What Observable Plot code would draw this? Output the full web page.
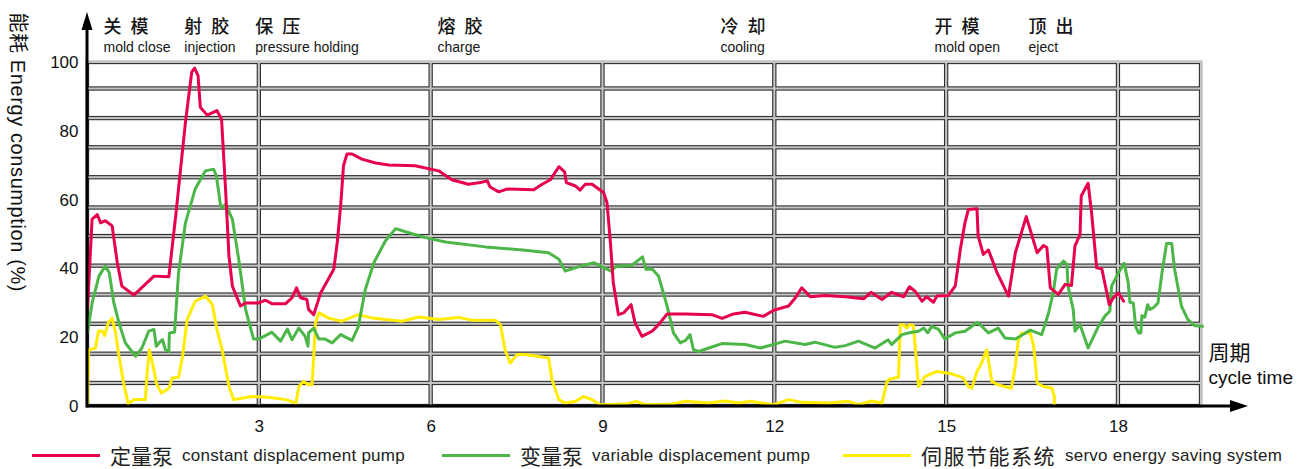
<!DOCTYPE html>
<html><head><meta charset="utf-8">
<script src="https://cdn.jsdelivr.net/npm/d3@7"></script>
<script src="https://cdn.jsdelivr.net/npm/@observablehq/plot@0.6"></script>
<style>
body{margin:0;background:#fff;font-family:"Liberation Sans",Arial,sans-serif;}
#wrap{position:relative;width:1299px;height:469px;overflow:hidden;}
#legend{position:absolute;left:0;top:441px;width:1299px;height:28px;}
.item{position:absolute;top:0;height:28px;display:flex;align-items:center;white-space:nowrap;color:#222;line-height:1;}
.sw{width:68px;height:3px;margin-right:10px;}
.zh{font-family:"Noto Sans CJK SC";font-size:21px;margin-right:9px;line-height:1;}
.en{font-size:17px;line-height:1;}
</style></head>
<body>
<div id="wrap"><div id="chart"></div><div id="legend"></div></div>
<script>
// ---- data ----
const xTicks = [3, 6, 9, 12, 15, 18];
const yTicks = [0, 20, 40, 60, 80, 100];
const colEdges = [0, 3, 6, 9, 12, 15, 18, 19.45];
const rowEdges = [0, 6.7, 15.2, 23.9, 32.4, 40.8, 49.4, 57.7, 66.5, 75.2, 83.7, 92.3, 100];
const phaseStart = [0.28, 1.69, 2.93, 6.11, 11.05, 14.79, 16.43];
const phaseZh = ["关模", "射胶", "保压", "熔胶", "冷却", "开模", "顶出"];
const phaseEn = ["mold close", "injection", "pressure holding", "charge", "cooling", "mold open", "eject"];
const seriesZh = ["定量泵", "变量泵", "伺服节能系统"];
const seriesEn = ["constant displacement pump", "variable displacement pump", "servo energy saving system"];
const seriesColor = ["#e6004e", "#4cb648", "#ffec00"];
const yLabel = "能耗 Energy consumption (%)";
const xLabelZh = "周期";
const xLabelEn = "cycle time";

const constantPump = [[0,28.3],[0.08,54.5],[0.17,55.8],[0.23,53.4],[0.31,54],[0.43,52.5],[0.52,41.8],[0.6,35],[0.81,32.4],[1.16,37.9],[1.42,37.7],[1.54,55.4],[1.71,82.6],[1.82,97.2],[1.87,98.4],[1.93,96.2],[1.97,87],[2.09,84.7],[2.26,86],[2.34,83.6],[2.41,63.3],[2.47,43.7],[2.53,35],[2.67,29.2],[2.76,30.1],[2.99,30.1],[3.11,30.9],[3.22,29.9],[3.46,29.9],[3.57,31.6],[3.65,34.5],[3.72,31.6],[3.83,31.1],[3.86,28.2],[3.95,26.7],[4.07,33],[4.3,39.9],[4.36,47.6],[4.42,58.3],[4.47,70],[4.53,73.4],[4.62,73.4],[4.79,71.9],[5.03,70.8],[5.26,70.2],[5.72,70],[6.13,68.5],[6.36,65.9],[6.65,64.6],[6.86,65.1],[6.98,65.6],[7.03,63.8],[7.18,62.4],[7.32,63.2],[7.79,63],[7.94,64.6],[8.08,65.9],[8.23,69.7],[8.33,68.2],[8.36,65.1],[8.52,64.1],[8.6,62.9],[8.69,64.6],[8.81,64.6],[9.01,62.2],[9.07,59.3],[9.13,47.6],[9.18,36],[9.27,26.7],[9.36,27.2],[9.49,29.6],[9.56,24.3],[9.68,20.4],[9.86,21.9],[9.97,23.8],[10.12,26.9],[10.44,26.9],[10.9,26.7],[11.08,25.6],[11.28,26.9],[11.48,27.4],[11.8,26.2],[11.98,28],[12.24,29.2],[12.36,31.6],[12.47,34.5],[12.62,31.9],[12.88,32.3],[13.23,31.9],[13.55,31.3],[13.68,33.2],[13.87,31.1],[14.04,33.2],[14.25,31.9],[14.35,34.8],[14.45,33.5],[14.57,30.6],[14.65,31.9],[14.77,30.3],[14.83,32.1],[15.03,32.3],[15.15,35],[15.24,45.7],[15.32,53.4],[15.38,57.3],[15.53,57.5],[15.55,49.6],[15.64,44.2],[15.73,45.5],[15.88,38.9],[16.08,32.1],[16.2,44.7],[16.39,55.2],[16.58,44.7],[16.69,46.8],[16.75,46.2],[16.81,34.5],[16.95,32.6],[17.07,35.5],[17.18,35.2],[17.24,46.6],[17.33,50.1],[17.35,61.2],[17.47,64.9],[17.53,56.4],[17.62,40.3],[17.71,40],[17.84,29.6],[17.91,31.6],[18,33],[18.09,30.6]];

const variablePump = [[0,21.4],[0.08,30.1],[0.2,37.9],[0.31,40.8],[0.38,38.9],[0.46,30.1],[0.55,24.3],[0.66,18.5],[0.84,14.6],[0.95,17],[1.07,21.9],[1.16,22.4],[1.2,17.5],[1.26,18.7],[1.31,19.4],[1.36,16.5],[1.42,16],[1.43,21.4],[1.52,21.6],[1.59,38.9],[1.71,53.4],[1.88,63.2],[2.06,68.5],[2.2,69],[2.25,67.1],[2.32,58.8],[2.35,57.8],[2.41,58.8],[2.53,54.4],[2.64,42.8],[2.76,28.2],[2.9,19.6],[2.99,19.6],[3.22,21.6],[3.37,19],[3.49,22.5],[3.57,19.4],[3.69,22.8],[3.8,20.4],[3.85,17.5],[3.86,21.4],[3.95,22.8],[4.04,19.6],[4.15,19.6],[4.27,18.5],[4.42,20.9],[4.62,19.2],[4.73,23.3],[4.85,34],[5,41.8],[5.2,48.1],[5.38,51.7],[5.55,50.8],[5.9,49.1],[6.25,47.8],[6.95,46.4],[7.64,45.4],[8.05,44.7],[8.23,42.8],[8.34,39.4],[8.57,40.6],[8.84,41.8],[9.13,39.4],[9.24,40.8],[9.5,41],[9.69,43.5],[9.75,39.9],[9.86,40],[9.97,37.9],[10.12,29.2],[10.23,21.4],[10.35,18.5],[10.44,19.2],[10.52,20.9],[10.58,16.5],[10.67,16],[10.9,17.3],[11.08,18.3],[11.48,18],[11.75,17],[12.18,19],[12.53,18],[12.7,18.7],[13.05,17.2],[13.23,17.7],[13.46,19],[13.75,17],[13.98,19.4],[14.04,18],[14.22,20.9],[14.39,21.6],[14.51,21.9],[14.6,22.8],[14.67,21.4],[14.74,23.3],[14.86,22.4],[14.97,19.6],[15.15,21.4],[15.32,21.9],[15.54,24.5],[15.73,21.4],[15.9,22.8],[16.02,19.9],[16.2,19.6],[16.46,22.2],[16.66,20.9],[16.78,27.2],[16.86,33],[16.92,39.9],[17.04,42.3],[17.1,41.3],[17.12,35],[17.21,28.2],[17.24,21.9],[17.33,23.8],[17.47,17],[17.65,23.3],[17.77,26.4],[17.85,27.7],[17.88,35],[18,38.9],[18.1,41.6],[18.17,36],[18.2,30.3],[18.26,30.1],[18.3,23.3],[18.35,21.4],[18.39,21.4],[18.41,26.4],[18.46,26],[18.51,29.6],[18.55,28.2],[18.61,28.7],[18.69,30.1],[18.76,38.9],[18.84,47.4],[18.93,47.4],[18.98,39.9],[19.1,29.2],[19.21,25.3],[19.33,23.5],[19.47,23.3]];

const servoSystem = [[0,0.5],[0.02,16.5],[0.14,17],[0.19,21.9],[0.26,21.9],[0.3,20.6],[0.36,24.3],[0.43,25.7],[0.49,21.4],[0.55,14.6],[0.63,6.8],[0.71,0.8],[0.81,2],[1.01,2],[1.04,9.7],[1.08,16.5],[1.16,10.7],[1.2,6.8],[1.29,3.9],[1.42,5.3],[1.48,8.3],[1.59,8.5],[1.66,14.6],[1.74,25.3],[1.88,30.6],[2.06,32.1],[2.18,29.6],[2.26,22.4],[2.35,16.5],[2.47,5.8],[2.55,2],[2.87,2.9],[3.16,2.7],[3.46,2],[3.64,1],[3.69,5.8],[3.77,7.3],[3.86,6.3],[3.92,6.3],[3.95,14.6],[3.98,24.3],[4.04,27.2],[4.21,25.7],[4.44,24.8],[4.73,26.7],[4.97,25.7],[5.49,24.8],[5.78,26],[6.13,25.3],[6.48,25.9],[6.71,25.1],[7.12,25.1],[7.21,23.8],[7.29,16.5],[7.38,12.6],[7.5,15.1],[7.64,15.1],[8.05,14.1],[8.11,7.8],[8.23,2],[8.34,1],[8.52,1.5],[8.66,2.9],[8.81,2],[8.95,0.5],[9.39,0.7],[9.59,1.5],[9.74,0.5],[10.2,0.7],[10.44,1.5],[10.84,1],[11.13,1.6],[11.37,1],[11.57,1.5],[11.98,0.5],[12.24,2],[12.47,1.2],[12.94,1],[13.29,1.5],[13.46,0.5],[13.69,1.6],[13.87,1],[13.96,7.3],[14.01,8],[14.16,8.5],[14.19,23.8],[14.25,23.8],[14.3,22.8],[14.36,23.8],[14.42,23.5],[14.51,5.8],[14.62,8.7],[14.83,10.2],[15.09,9.5],[15.29,8.3],[15.38,5.8],[15.44,5.3],[15.53,10.2],[15.61,12.6],[15.7,16.5],[15.79,7.3],[15.9,6.3],[16.13,5.3],[16.2,11.7],[16.25,19],[16.31,21.4],[16.46,21.4],[16.52,17.5],[16.58,6.8],[16.69,5.8],[16.84,5.3],[16.88,2.9],[16.88,0.2]];

// ---- derived tables ----
const cells = [];
for (let i = 0; i < colEdges.length - 1; i++)
  for (let j = 0; j < rowEdges.length - 1; j++)
    cells.push({x1: colEdges[i], x2: colEdges[i + 1], y1: rowEdges[j], y2: rowEdges[j + 1]});
const phases = phaseStart.map((x, i) => ({x, zh: phaseZh[i], en: phaseEn[i]}));
const seriesData = [servoSystem, variablePump, constantPump];
const seriesIdx = [2, 1, 0];

const chart = Plot.plot({
  width: 1299,
  height: 436,
  marginLeft: 87,
  marginRight: 98,
  marginTop: 62,
  marginBottom: 30,
  style: {fontSize: "17px", fontFamily: "'Liberation Sans', Arial, sans-serif", color: "#111", background: "white"},
  x: {domain: [0, 19.45], ticks: xTicks, tickSize: 0, tickPadding: 13, label: null},
  y: {domain: [0, 100], ticks: yTicks, tickSize: 0, tickPadding: 9, label: null},
  marks: [
    Plot.rect(cells, {x1: "x1", x2: "x2", y1: "y1", y2: "y2", fill: "white", stroke: "#c4c4c4", strokeWidth: 3.5}),
    Plot.rect(cells, {x1: "x1", x2: "x2", y1: "y1", y2: "y2", inset: 1.6, fill: "white", stroke: "#2e2e2e", strokeWidth: 1.1}),
    ...seriesData.map((d, k) => Plot.line(d, {x: p => p[0], y: p => p[1], stroke: seriesColor[seriesIdx[k]], strokeWidth: 3, strokeLinejoin: "round", strokeLinecap: "round"})),
    Plot.text(phases, {x: "x", text: "zh", frameAnchor: "top", dy: -42, textAnchor: "start", fontSize: 18, fontWeight: 500, fontFamily: "Noto Sans CJK SC", fill: "#151515"}),
    Plot.text(phases, {x: "x", text: "en", frameAnchor: "top", dy: -20, textAnchor: "start", fontSize: 14, fill: "#151515"}),
    Plot.text([yLabel], {frameAnchor: "top-left", dx: -62, dy: -50, rotate: 90, textAnchor: "start", fontSize: 20, fill: "#111", fontFamily: "'Liberation Sans', 'Noto Sans CJK SC', sans-serif"}),
    Plot.text([xLabelZh], {frameAnchor: "bottom-right", dx: 7, dy: -47, textAnchor: "start", fontSize: 21, fontFamily: "Noto Sans CJK SC", fill: "#111"}),
    Plot.text([xLabelEn], {frameAnchor: "bottom-right", dx: 7, dy: -23, textAnchor: "start", fontSize: 19, fill: "#111"})
  ]
});
document.getElementById("chart").appendChild(chart);

const svg = d3.select(chart);
// letter spacing of the phase names and the y label
svg.selectAll("text").filter(function () { return phaseZh.includes(this.textContent); }).attr("letter-spacing", "9px");
svg.selectAll("text").filter(function () { return this.textContent === yLabel; }).attr("letter-spacing", "0.6px");

// axis arrows
const sx = chart.scale("x"), sy = chart.scale("y");
const X = v => sx.apply(v), Y = v => sy.apply(v);
const g = svg.append("g");
const x0 = X(0), y0 = Y(0);
const xTip = X(19.45) + 47, yTip = Y(100) - 50;
g.append("line").attr("x1", x0).attr("x2", xTip - 14).attr("y1", y0).attr("y2", y0).attr("stroke", "#000").attr("stroke-width", 3);
g.append("path").attr("d", `M${xTip},${y0}L${xTip - 18},${y0 - 6}L${xTip - 18},${y0 + 6}Z`).attr("fill", "#000");
g.append("line").attr("x1", x0).attr("x2", x0).attr("y1", y0 + 1.5).attr("y2", yTip + 14).attr("stroke", "#000").attr("stroke-width", 3);
g.append("path").attr("d", `M${x0},${yTip}L${x0 - 5.5},${yTip + 18}L${x0 + 5.5},${yTip + 18}Z`).attr("fill", "#000");

// legend
const legendLeft = [32, 442, 843];
const zhSpacing = [0, 0, 1.5];
const legend = document.getElementById("legend");
seriesZh.forEach((zh, i) => {
  const it = document.createElement("div");
  it.className = "item";
  it.style.left = legendLeft[i] + "px";
  it.innerHTML = `<span class="sw" style="background:${seriesColor[i]}"></span><span class="zh" style="letter-spacing:${zhSpacing[i]}px">${zh}</span><span class="en" style="letter-spacing:0.25px">${seriesEn[i]}</span>`;
  legend.appendChild(it);
});
</script>
</body></html>
